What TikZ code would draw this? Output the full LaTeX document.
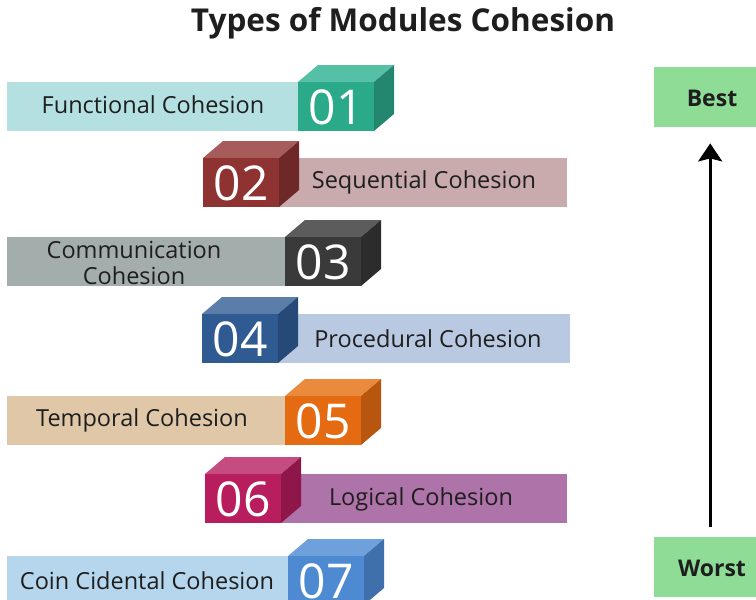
\documentclass[tikz,border=0pt]{standalone}
\usepackage{fontspec}
\setmainfont{Open Sans}
\usetikzlibrary{arrows.meta}

% face colours of the seven numbered cubes and their bars
\definecolor{barA}{HTML}{B4E0E2}\definecolor{frA}{HTML}{2BAA8A}\definecolor{tpA}{HTML}{55C0A6}\definecolor{sdA}{HTML}{23876F}
\definecolor{barB}{HTML}{C9AAAD}\definecolor{frB}{HTML}{8E3232}\definecolor{tpB}{HTML}{A85B5B}\definecolor{sdB}{HTML}{6F2828}
\definecolor{barC}{HTML}{A3ADAB}\definecolor{frC}{HTML}{3A3A3A}\definecolor{tpC}{HTML}{5C5C5C}\definecolor{sdC}{HTML}{2C2C2C}
\definecolor{barD}{HTML}{B8C9E1}\definecolor{frD}{HTML}{2F5B92}\definecolor{tpD}{HTML}{5A7DAA}\definecolor{sdD}{HTML}{264A78}
\definecolor{barE}{HTML}{DFC7A8}\definecolor{frE}{HTML}{E56B12}\definecolor{tpE}{HTML}{E98A3C}\definecolor{sdE}{HTML}{B85610}
\definecolor{barF}{HTML}{AE73A8}\definecolor{frF}{HTML}{B81E5E}\definecolor{tpF}{HTML}{C44C80}\definecolor{sdF}{HTML}{8E1649}
\definecolor{barG}{HTML}{B5D6EC}\definecolor{frG}{HTML}{4E8AD2}\definecolor{tpG}{HTML}{6EA0DB}\definecolor{sdG}{HTML}{3F70AB}
\definecolor{rank}{HTML}{8FDC97}
\definecolor{ink}{HTML}{1E1E1E}

\tikzset{
  bar/.style={rectangle, anchor=north west, minimum height=49pt, inner sep=0pt,
    text=ink, font=\fontsize{23.5}{26}\selectfont},
  bartext/.style={text=ink, font=\fontsize{23.5}{26}\selectfont, align=center, inner sep=0pt},
  numtext/.style={text=white, font=\fontsize{48}{50}\selectfont, inner sep=0pt},
  rankbox/.style={rectangle, fill=rank, minimum width=112pt, minimum height=60pt,
    anchor=north west, text=black},
  ranklabel/.style={font=\bfseries\fontsize{23}{25}\selectfont, text=ink},
  uparrow/.style={-{Stealth[length=18pt,width=24pt,inset=3pt]}, line width=2.6pt, black}
}

% \numcube{node name}{front x}{front y}{front}{top}{side}{number}
\newcommand\numcube[7]{%
  \fill[#5] (#2,#3) -- (#2+20,#3-17) -- (#2+96,#3-17) -- (#2+76,#3) -- cycle;
  \fill[#6] (#2+76,#3) -- (#2+96,#3-17) -- (#2+96,#3+32) -- (#2+76,#3+49) -- cycle;
  \fill[#4] (#2,#3) rectangle (#2+76,#3+49);
  \node[numtext] (#1) at (#2+38,#3+25) {#7};
}

\begin{document}
\begin{tikzpicture}[x=1pt,y=-1pt]
\useasboundingbox (0,0) rectangle (756,600);

\node[font=\bfseries\fontsize{31.5}{34}\selectfont, text=ink] (title) at (403,23) {Types of Modules Cohesion};

% 01
\node[bar, fill=barA, minimum width=291pt] (b1) at (7,82) {};
\node[bartext] (t1) at (153,105) {Functional Cohesion};
\numcube{n1}{298}{82}{frA}{tpA}{sdA}{01}
% 02
\node[bar, fill=barB, minimum width=288pt] (b2) at (279,158) {};
\node[bartext] (t2) at (424,182) {Sequential Cohesion};
\numcube{n2}{203}{158}{frB}{tpB}{sdB}{02}
% 03
\node[bar, fill=barC, minimum width=278pt] (b3) at (7,237) {};
\node[bartext] (t3) at (134,263) {Communication\\Cohesion};
\numcube{n3}{285}{237}{frC}{tpC}{sdC}{03}
% 04
\node[bar, fill=barD, minimum width=292pt] (b4) at (278,314) {};
\node[bartext] (t4) at (428,339) {Procedural Cohesion};
\numcube{n4}{202}{314}{frD}{tpD}{sdD}{04}
% 05
\node[bar, fill=barE, minimum width=278pt] (b5) at (7,396) {};
\node[bartext] (t5) at (142,420) {Temporal Cohesion};
\numcube{n5}{285}{396}{frE}{tpE}{sdE}{05}
% 06
\node[bar, fill=barF, minimum width=286pt] (b6) at (281,474) {};
\node[bartext] (t6) at (421,499) {Logical Cohesion};
\numcube{n6}{205}{474}{frF}{tpF}{sdF}{06}
% 07
\node[bar, fill=barG, minimum width=281pt] (b7) at (7,556) {};
\node[bartext] (t7) at (147,581) {Coin Cidental Cohesion};
\numcube{n7}{288}{556}{frG}{tpG}{sdG}{07}

% ranking scale
\node[rankbox] (best) at (654,67) {};
\node[ranklabel] (bestlbl) at (712,98) {Best};
\node[rankbox] (worst) at (654,537) {};
\node[ranklabel] (worstlbl) at (712,568) {Worst};
\draw[uparrow, shorten <=10pt, shorten >=16pt] (worst.north) -- (best.south);
\end{tikzpicture}
\end{document}
